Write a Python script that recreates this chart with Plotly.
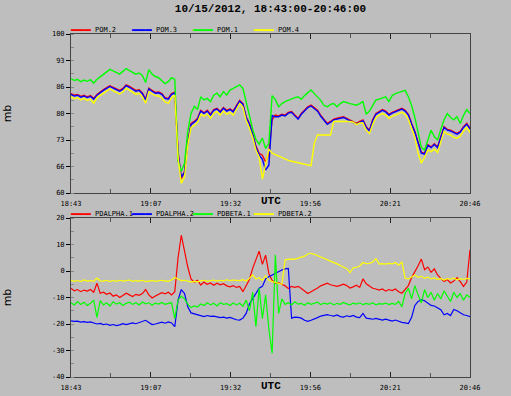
import plotly.graph_objects as go

# ---------------- data ----------------
TITLE = "10/15/2012, 18:43:00-20:46:00"
MINUTES = list(range(124))  # sample times: minutes after 18:43:00 UTC
X_TICK_LABELS = ["18:43", "19:07", "19:32", "19:56", "20:21", "20:46"]
TOP_Y_TICK_LABELS = ["60", "66", "73", "80", "86", "93", "100"]
BOTTOM_Y_TICK_LABELS = ["-40", "-30", "-20", "-10", "0", "10", "20"]

TOP_NAMES = ["POM.2", "POM.3", "POM.1", "POM.4"]
BOTTOM_NAMES = ["PDALPHA.1", "PDALPHA.2", "PDBETA.1", "PDBETA.2"]
SERIES_COLORS = ["#ff0000", "#0000ff", "#00ff00", "#ffff00"]

POM_2 = [85.0, 84.6, 84.8, 84.3, 84.6, 84.2, 84.5, 83.8, 84.8, 85.5,
         86.0, 86.5, 87.0, 86.6, 86.2, 85.8, 86.3, 87.2, 86.8, 86.3,
         85.8, 86.0, 85.2, 83.6, 86.4, 85.8, 85.3, 85.4, 85.0, 84.0,
         83.8, 85.0, 85.4, 70.5, 63.5, 65.5, 73.0, 77.5, 78.0, 78.8,
         80.8, 80.2, 80.8, 79.8, 81.0, 81.3, 80.5, 81.5, 80.8, 81.2,
         80.6, 82.0, 83.3, 82.5, 79.2, 77.5, 75.0, 71.8, 70.0, 69.5,
         67.8, 70.0, 78.5, 79.6, 79.4, 79.8, 79.6, 80.3, 80.5, 79.6,
         78.8, 80.0, 80.9, 81.7, 82.1, 81.4, 80.8, 79.5, 78.4, 77.5,
         78.0, 78.6, 78.8, 79.0, 79.2, 78.8, 78.4, 78.0, 77.5, 78.0,
         78.4, 76.7, 75.8, 78.4, 80.0, 80.5, 81.0, 80.6, 79.8, 80.3,
         80.6, 81.0, 81.3, 80.8, 79.8, 77.5, 75.5, 72.8, 70.2, 70.0,
         72.2, 71.6, 72.4, 71.6, 74.0, 76.7, 76.0, 75.8, 75.4, 75.0,
         75.5, 76.7, 77.5, 76.3]
POM_3 = [84.8, 84.4, 84.6, 84.1, 84.4, 84.0, 84.3, 83.6, 84.6, 85.3,
         85.8, 86.3, 86.8, 86.4, 86.0, 85.6, 86.1, 87.0, 86.6, 86.1,
         85.6, 85.8, 85.0, 83.4, 86.2, 85.6, 85.1, 85.2, 84.8, 83.8,
         83.6, 84.8, 85.2, 70.0, 64.0, 65.2, 72.6, 77.2, 77.8, 78.5,
         80.6, 80.0, 80.6, 79.6, 80.8, 81.1, 80.3, 81.3, 80.6, 81.0,
         80.4, 81.8, 83.1, 82.3, 79.0, 77.3, 74.8, 71.5, 69.6, 68.5,
         65.8, 67.0, 79.5, 79.2, 79.2, 79.6, 79.4, 80.1, 80.3, 79.4,
         78.6, 79.8, 80.7, 81.5, 81.9, 81.2, 80.6, 79.3, 78.2, 77.3,
         77.8, 78.4, 78.6, 78.8, 79.0, 78.6, 78.2, 77.8, 77.3, 77.8,
         78.2, 76.5, 75.6, 78.2, 79.8, 80.3, 80.8, 80.4, 79.6, 80.1,
         80.4, 80.8, 81.1, 80.6, 79.6, 77.3, 75.3, 72.6, 70.0, 69.8,
         72.0, 71.4, 72.2, 71.4, 73.8, 76.5, 75.8, 75.6, 75.2, 74.8,
         75.3, 76.5, 77.3, 76.1]
POM_1 = [88.8, 88.3, 88.6, 88.0, 88.4, 88.1, 88.5, 87.6, 88.6, 89.2,
         89.8, 90.6, 91.1, 90.7, 90.3, 89.9, 90.6, 91.3, 90.8, 90.4,
         89.9, 90.2, 89.6, 87.8, 91.0, 89.9, 89.3, 89.0, 88.2, 87.5,
         88.0, 89.0, 88.6, 68.0, 65.5, 67.5, 75.5, 80.0, 81.8, 81.0,
         84.2, 83.4, 83.8, 83.0, 84.6, 85.1, 84.2, 85.5, 84.6, 85.9,
         86.3, 86.7, 87.2, 86.3, 82.5, 79.5, 76.0, 73.5, 72.3, 73.8,
         71.2, 72.5, 84.5, 83.5, 81.7, 82.5, 83.0, 83.4, 83.6, 84.0,
         84.2, 83.6, 84.5, 85.1, 85.9, 85.0, 84.2, 83.3, 82.0, 81.7,
         82.3, 82.5, 81.7, 82.5, 83.0, 82.7, 82.5, 82.3, 82.1, 82.5,
         83.0, 79.8, 80.6, 82.0, 83.4, 83.6, 84.0, 84.2, 83.0, 84.5,
         85.0, 85.3, 85.5, 85.8, 84.2, 82.0, 79.0, 75.5, 71.5, 70.8,
         73.3, 75.8, 74.2, 73.3, 76.0, 78.4, 80.0, 79.0, 78.4, 79.2,
         77.5, 79.5, 81.0, 80.0]
POM_4 = [84.2, 83.7, 84.0, 83.4, 83.8, 83.3, 83.6, 82.6, 84.0, 84.6,
         85.2, 85.6, 86.2, 85.7, 85.3, 84.9, 85.4, 86.4, 85.9, 85.4,
         84.8, 85.1, 84.2, 82.6, 85.5, 84.9, 84.5, 84.4, 83.9, 82.9,
         82.6, 84.0, 84.6, 69.0, 62.4, 64.0, 72.0, 76.5, 77.0, 77.8,
         79.8, 79.3, 79.9, 78.8, 80.0, 80.5, 79.6, 80.6, 79.8, 80.3,
         79.6, 81.0, 82.5, 81.6, 78.2, 76.3, 74.0, 70.8, 69.0, 63.5,
         67.0, 71.0, 70.0, 69.6, 69.2, 68.8, 68.5, 68.2, 68.0, 67.8,
         67.6, 67.4, 67.2, 67.0, 66.9, 72.5, 74.6, 74.6, 74.6, 74.6,
         74.6, 78.0, 78.0, 78.0, 78.0, 78.0, 78.0, 77.8, 77.2, 77.6,
         77.6, 75.8, 75.0, 77.2, 79.0, 79.6, 80.0, 79.6, 78.8, 79.3,
         79.6, 80.0, 80.3, 79.8, 78.6, 76.3, 74.0, 70.0, 67.5, 69.0,
         70.8, 70.4, 71.0, 70.2, 72.8, 75.5, 74.8, 74.6, 74.0, 73.8,
         74.3, 75.6, 76.5, 75.2]

PDALPHA_1 = [-6.5, -7.5, -7.0, -7.8, -7.2, -7.6, -7.0, -8.0, -4.6, -8.4,
             -8.0, -8.8, -8.3, -9.5, -9.0, -10.0, -9.2, -8.4, -9.0, -9.6,
             -8.8, -9.2, -8.5, -7.0, -9.0, -10.2, -9.4, -8.8, -8.2, -8.6,
             -8.0, -9.0, -7.8, 5.0, 13.5, 7.5, 1.5, -3.0, -4.2, -3.5,
             -5.3, -4.2, -5.0, -4.5, -5.4, -4.6, -5.2, -4.8, -5.6, -6.0,
             -5.5, -6.2, -5.8, -7.8, -5.5, -3.2, 1.0, 4.5, 7.5, 2.5,
             6.0, -1.0, -3.5, -4.6, -4.4, -5.0, -5.6, -6.6, -5.8, -6.2,
             -5.8, -6.6, -7.6, -8.5, -7.8, -7.2, -6.4, -5.6, -5.0, -4.6,
             -5.2, -5.4, -5.8, -5.4, -5.0, -5.5, -6.4, -6.0, -5.4, -6.2,
             -3.0, -4.8, -5.5, -6.5, -6.8, -7.2, -6.8, -7.6, -7.0, -7.4,
             -6.8, -7.8, -8.4, -6.8, -5.5, -2.5, -0.5, 2.0, 4.5, 0.5,
             1.5, -0.5, 0.8, -1.5, -2.8, -4.0, -3.2, -4.5, -3.8, -2.5,
             -4.0, -5.8, -4.2, 8.0]
PDALPHA_2 = [-18.8, -19.0, -18.9, -19.3, -19.1, -19.4, -19.2, -19.6, -20.0, -19.8,
             -20.2, -20.0, -20.5, -20.2, -20.6, -20.3, -19.9, -20.2, -19.8, -19.6,
             -19.9, -19.5, -19.0, -18.6, -19.4, -20.2, -20.0, -19.5, -19.3, -19.7,
             -19.2, -19.6, -21.0, -11.0, -7.0, -8.5, -13.5, -15.8, -16.2, -16.6,
             -17.0, -17.2, -16.8, -17.1, -17.0, -17.3, -17.6, -17.4, -17.8, -17.5,
             -18.0, -18.4, -18.5, -17.8, -16.0, -12.5, -10.5, -8.5, -6.5, -5.8,
             -3.0, -2.2, -1.5, -1.0, 0.0, 0.4, 0.8, 1.0, -17.8, -17.4,
             -17.5, -17.8, -18.6, -19.0, -18.6, -18.2, -17.6, -17.0, -16.8, -16.5,
             -16.8, -17.0, -16.6, -17.2, -17.4, -16.9, -17.2, -16.8, -17.4, -17.6,
             -16.0, -17.8, -18.0, -18.2, -17.9, -18.3, -18.5, -18.2, -18.6, -18.9,
             -18.5, -19.0, -19.4, -19.6, -19.8, -17.5, -13.0, -11.5, -10.8, -11.2,
             -12.0, -13.0, -13.2, -13.8, -14.6, -16.5, -16.0, -16.8, -14.5, -15.0,
             -15.8, -16.5, -16.8, -17.2]
PDBETA_1 = [-12.0, -12.8, -11.5, -12.6, -11.8, -13.0, -12.2, -11.0, -17.5, -11.2,
            -12.8, -12.0, -13.2, -11.6, -12.5, -12.0, -13.0, -12.2, -11.8, -12.6,
            -12.0, -12.8, -11.7, -12.4, -12.0, -12.9, -12.1, -12.5, -11.9, -12.6,
            -12.2, -12.0, -18.0, -11.0, -9.5, -10.5, -12.5, -13.8, -13.2, -13.6,
            -12.4, -13.0, -12.0, -12.8, -12.2, -13.2, -12.0, -12.6, -12.3, -13.0,
            -12.1, -12.8, -12.2, -13.3, -11.0, -15.0, -8.0, -21.0, -6.5, -18.0,
            -9.0, -22.0, -31.0, 6.0, -16.0, -10.5, -12.6, -12.0, -12.8, -11.6,
            -12.5, -12.2, -12.9, -12.0, -12.6, -12.3, -11.8, -12.7, -12.1, -12.5,
            -12.0, -12.8, -12.2, -12.6, -11.9, -12.4, -12.8, -12.1, -12.5, -12.0,
            -12.7, -12.2, -12.6, -12.0, -12.8, -12.3, -12.5, -12.1, -12.7, -12.2,
            -12.6, -11.5, -13.5, -8.5, -6.5, -10.5, -5.5, -9.0, -12.0, -7.0,
            -10.0, -8.0, -11.0, -8.5, -10.5, -7.5, -9.5, -11.5, -8.0, -10.0,
            -8.5, -11.0, -9.0, -10.0]
PDBETA_2 = [-3.5, -3.9, -3.6, -4.0, -3.4, -3.8, -3.6, -3.9, -2.7, -3.7,
            -3.8, -3.5, -4.0, -3.6, -3.9, -3.5, -3.8, -3.7, -3.4, -3.9,
            -3.6, -3.8, -3.5, -4.0, -3.7, -3.6, -3.9, -3.8, -3.5, -3.7,
            -3.9, -3.4, -2.4, -3.0, -3.6, -3.5, -4.0, -4.2, -3.9, -4.1,
            -3.7, -3.5, -3.9, -3.6, -3.4, -3.8, -3.5, -3.7, -3.3, -3.6,
            -3.4, -3.5, -3.6, -3.3, -3.8, -2.8, -1.5, -3.0, -2.5, -3.5,
            -1.8, -3.6, -4.0, -4.3, -4.6, -5.0, 4.2, 4.4, 4.6, 4.4,
            4.8, 5.2, 5.6, 6.4, 6.7, 6.3, 5.8, 5.3, 4.9, 4.4,
            3.9, 3.3, 2.7, 2.1, 1.5, 0.9, -0.6, 1.2, 1.4, 1.9,
            3.2, 2.8, 2.9, 3.4, 4.6, 2.6, 2.8, 2.6, 2.9, 2.7,
            3.2, 2.2, 3.4, -2.7, -3.0, -2.2, -1.5, -2.4, -2.0, -2.8,
            -2.3, -3.0, -2.6, -3.2, -2.8, -3.4, -2.9, -3.1, -2.7, -3.3,
            -2.9, -3.2, -2.8, -3.0]

TOP_SERIES = [POM_2, POM_3, POM_1, POM_4]
BOTTOM_SERIES = [PDALPHA_1, PDALPHA_2, PDBETA_1, PDBETA_2]
TOP_RANGE = [60, 100]
BOTTOM_RANGE = [-40, 20]

# ---------------- figure ----------------
W, H = 511, 396
ML, MR, MT, MB = 71, 41, 34, 19
PH = H - MT - MB          # 343
PW = W - ML - MR          # 399
BG = "#bebebe"
MONO = "DejaVu Sans Mono"
BOLD_MONO = "Liberation Mono"

top_dom = [(PH - 159) / PH, 1.0]
bot_dom = [0.0, 159 / PH]

fig = go.Figure()
for name, ys, col in zip(TOP_NAMES, TOP_SERIES, SERIES_COLORS):
    fig.add_trace(go.Scatter(x=MINUTES, y=ys, name=name, mode="lines",
                             line=dict(color=col, width=1.4), xaxis="x", yaxis="y",
                             showlegend=False))
for name, ys, col in zip(BOTTOM_NAMES, BOTTOM_SERIES, SERIES_COLORS):
    fig.add_trace(go.Scatter(x=MINUTES, y=ys, name=name, mode="lines",
                             line=dict(color=col, width=1.2), xaxis="x2", yaxis="y2",
                             showlegend=False))

span = MINUTES[-1] - MINUTES[0]
x_ticks = [MINUTES[0] + i * span / (len(X_TICK_LABELS) - 1) for i in range(len(X_TICK_LABELS))]

def yticks(rng, labels):
    n = len(labels) - 1
    return [rng[0] + i * (rng[1] - rng[0]) / n for i in range(n + 1)]

tick_font = dict(family=MONO, size=7, color="#000000")

def xaxis_cfg(anchor):
    return dict(domain=[0, 1], anchor=anchor, range=[MINUTES[0], MINUTES[-1]],
                tickmode="array", tickvals=x_ticks, ticktext=X_TICK_LABELS,
                ticks="inside", ticklen=5, tickcolor="#222222", tickwidth=1,
                showline=True, linecolor="#444444", linewidth=1, mirror="ticks",
                showgrid=False, zeroline=False, tickfont=tick_font,
                ticklabelstandoff=4,
                minor=dict(ticks="inside", ticklen=4, tickcolor="#555555",
                           tick0=MINUTES[0], dtick=span / 10, showgrid=False))

def yaxis_cfg(anchor, dom, rng, labels):
    tv = yticks(rng, labels)
    step = (rng[1] - rng[0]) / (len(labels) - 1)
    return dict(domain=dom, anchor=anchor, range=rng, tickmode="array",
                tickvals=tv, ticktext=labels, ticks="outside", ticklen=4,
                tickcolor="#000000", showline=True, linecolor="#444444",
                linewidth=1, mirror=True, showgrid=False, zeroline=False,
                tickfont=tick_font,
                title=dict(text="mb", font=dict(family="DejaVu Sans", size=11, color="#000"),
                           standoff=38),
                minor=dict(ticks="inside", ticklen=3, tickcolor="#888888",
                           tick0=rng[0], dtick=step / 2, showgrid=False))

def yaxis_right_cfg(anchor, over, dom, rng, labels):
    tv = yticks(rng, labels)
    step = (rng[1] - rng[0]) / (len(labels) - 1)
    return dict(domain=dom, anchor=anchor, overlaying=over, side="right", range=rng,
                tickmode="array", tickvals=tv, ticks="inside", ticklen=6,
                tickcolor="#000000", showticklabels=False, showline=True,
                linecolor="#000000", linewidth=1, showgrid=False, zeroline=False,
                minor=dict(ticks="inside", ticklen=3, tickcolor="#888888",
                           tick0=rng[0], dtick=step / 2, showgrid=False))

fig.update_layout(
    width=W, height=H,
    margin=dict(l=ML, r=MR, t=MT, b=MB, autoexpand=False),
    paper_bgcolor=BG, plot_bgcolor=BG,
    showlegend=False,
    title=dict(text="<b>" + TITLE + "</b>", x=0.5, xref="paper", xanchor="center",
               y=1 - 8 / H, yref="container", yanchor="middle",
               font=dict(family=BOLD_MONO, size=11, color="#000000")),
    xaxis=xaxis_cfg("y"),
    yaxis=yaxis_cfg("x", top_dom, TOP_RANGE, TOP_Y_TICK_LABELS),
    xaxis2=xaxis_cfg("y2"),
    yaxis2=yaxis_cfg("x2", bot_dom, BOTTOM_RANGE, BOTTOM_Y_TICK_LABELS),
    yaxis3=yaxis_right_cfg("x", "y", top_dom, TOP_RANGE, TOP_Y_TICK_LABELS),
    yaxis4=yaxis_right_cfg("x2", "y2", bot_dom, BOTTOM_RANGE, BOTTOM_Y_TICK_LABELS),
)

def py(pixel_y):
    return (H - MB - pixel_y) / PH

def px(pixel_x):
    return (pixel_x - ML) / PW

annotations = []
# "UTC" labels under each panel
for yy in (201, 386):
    annotations.append(dict(text="<b>UTC</b>", xref="paper", yref="paper",
                            x=0.5, y=py(yy), xanchor="center", yanchor="middle",
                            showarrow=False,
                            font=dict(family=BOLD_MONO, size=11, color="#000")))
# legends (colour swatch drawn as a box-drawing glyph + series name)
for names, ly in ((TOP_NAMES, 29.5), (BOTTOM_NAMES, 214)):
    for i, (nm, col) in enumerate(zip(names, SERIES_COLORS)):
        annotations.append(dict(text="━━━", xref="paper", yref="paper",
                                x=px(69 + 61 * i), y=py(ly), xanchor="left",
                                yanchor="middle", showarrow=False,
                                height=6, valign="middle", borderpad=0,
                                font=dict(family=MONO, size=11, color=col)))
        annotations.append(dict(text=nm, xref="paper", yref="paper",
                                x=px(94 + 61 * i), y=py(ly), xanchor="left",
                                yanchor="middle", showarrow=False, borderpad=0,
                                font=dict(family=MONO, size=7, color="#000")))
fig.update_layout(annotations=annotations)

fig.write_html("out.html",
               config={"displayModeBar": False},
               post_script="document.body.style.margin='0';"
                           "document.body.style.background='#bebebe';")
